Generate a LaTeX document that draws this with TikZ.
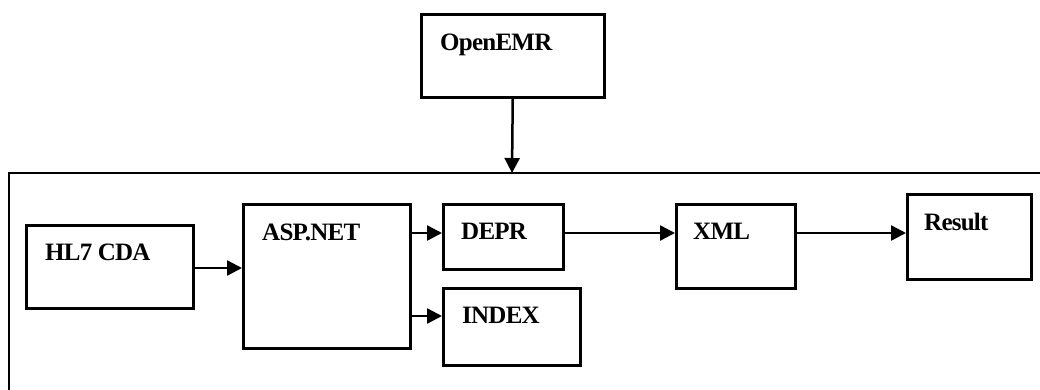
\documentclass[tikz,border=0pt]{standalone}
\usepackage{fontspec}
\setmainfont{Liberation Serif}[LetterSpace=-3]
\usetikzlibrary{arrows.meta}
\tikzset{
  box/.style={draw, line width=2.5pt, rectangle, inner sep=0pt, anchor=north west},
  lbl/.style={anchor=base west, inner sep=0pt, font=\bfseries\fontsize{25}{29}\selectfont},
  arr/.style={line width=2.5pt, -{Triangle[length=15pt,width=15pt]}},
  frame/.style={line width=2.5pt}
}
\begin{document}
\begin{tikzpicture}[x=1pt,y=-1pt]
\useasboundingbox (0,0) rectangle (1040,389);
% boxes
\node[box, minimum width=183pt, minimum height=83pt] (emr) at (420,13) {};
\node[lbl] at (440,50) {OpenEMR};
\node[box, minimum width=167pt, minimum height=83pt] (hl7) at (25,224) {};
\node[lbl] at (45,260) {HL7 CDA};
\node[box, minimum width=167pt, minimum height=144pt] (asp) at (242,203) {};
\node[lbl] at (262,240) {ASP.NET};
\node[box, minimum width=120pt, minimum height=65pt] (depr) at (442,203) {};
\node[lbl] at (461,239) {DEPR};
\node[box, minimum width=137pt, minimum height=77pt] (index) at (442,287) {};
\node[lbl] at (462,323) {INDEX};
\node[box, minimum width=119pt, minimum height=84pt] (xml) at (675,203) {};
\node[lbl] at (693,239) {XML};
\node[box, minimum width=124pt, minimum height=85pt] (result) at (906,193) {};
\node[lbl] at (924,230) {Result};
% container
\coordinate (ctop) at (512,173);
\coordinate (ctr) at (1045,173);
\coordinate (ctl) at (9,173);
\coordinate (cbl) at (9,395);
\draw[frame] (ctr) -- (ctl) -- (cbl);
% connectors
\draw[arr] (emr.south) -- (ctop);
\draw[arr] (hl7.east |- 0,268) -- (asp.west |- 0,268);
\draw[arr] (asp.east |- 0,233) -- (depr.west |- 0,233);
\draw[arr] (asp.east |- 0,316) -- (index.west |- 0,316);
\draw[arr] (depr.east |- 0,233) -- (xml.west |- 0,233);
\draw[arr] (xml.east |- 0,233) -- (result.west |- 0,233);
\end{tikzpicture}
\end{document}
